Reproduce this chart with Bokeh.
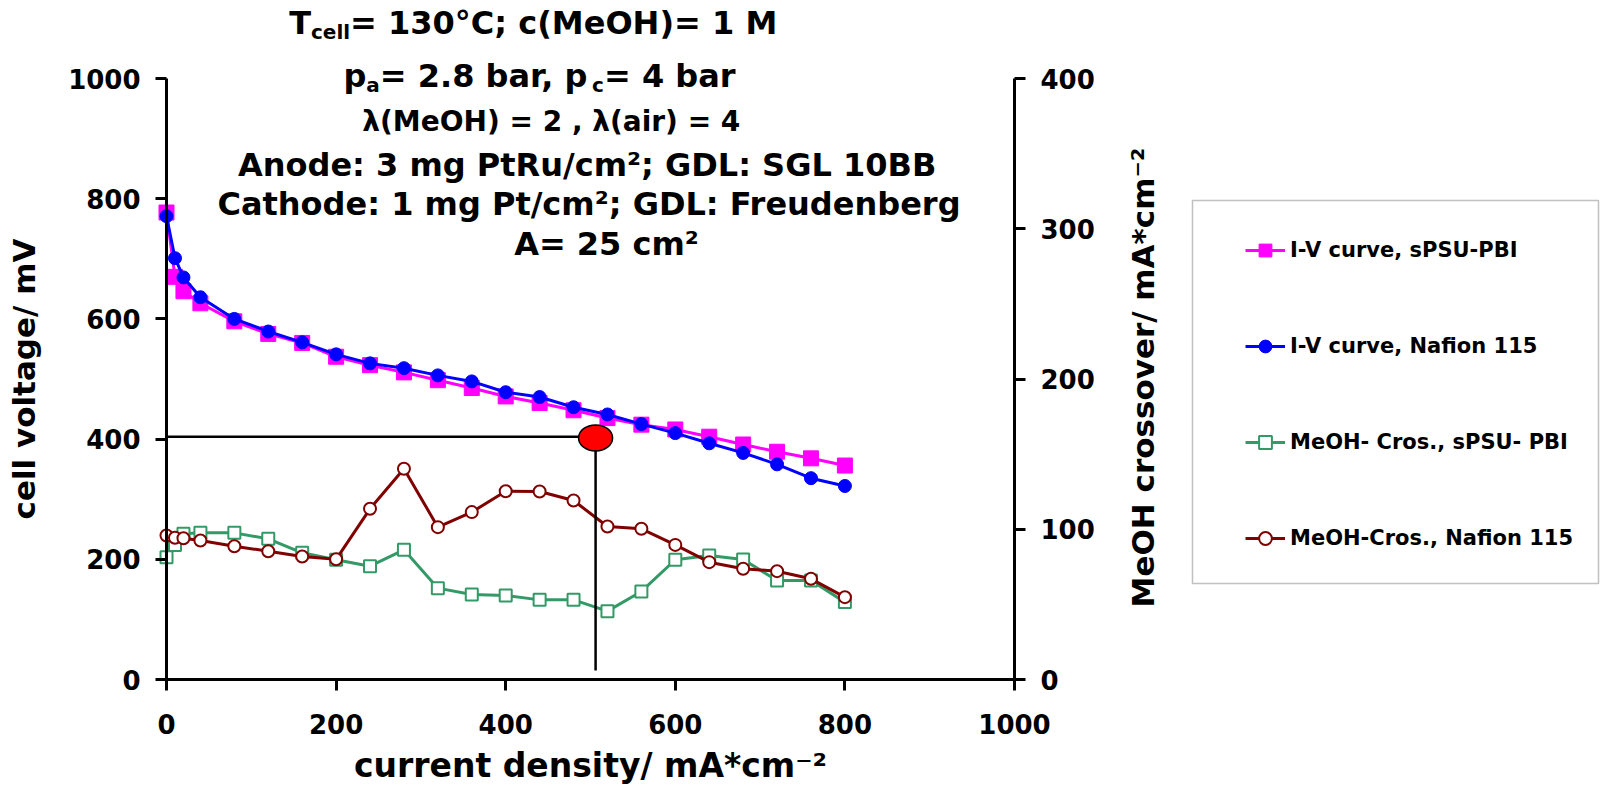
import math
from bokeh.plotting import figure
from bokeh.models import (Range1d, LinearAxis, FixedTicker, Legend, LegendItem,
                          Label, BoxAnnotation)
from bokeh.embed import file_html
from bokeh.resources import INLINE

# ---------------- data ----------------
current_density = [0, 10, 20, 40, 80, 120, 160, 200, 240, 280, 320, 360, 400,
                   440, 480, 520, 560, 600, 640, 680, 720, 760, 800]
iv_spsu_pbi = [777, 670, 646, 626, 596, 575, 560, 537, 523, 511, 498, 485, 471,
               460, 448, 435, 424, 416, 404, 391, 379, 368, 356]
iv_nafion = [771, 701, 669, 636, 600, 579, 561, 541, 526, 518, 506, 496, 478,
             470, 453, 441, 425, 410, 393, 377, 358, 335, 322]
cross_spsu_pbi = [81.4, 89.6, 97.0, 97.6, 97.6, 93.6, 84.3, 79.7, 75.4, 86.3, 60.8,
                  56.6, 55.9, 53.0, 53.0, 45.5, 58.6, 79.7, 82.5, 79.9, 65.9, 65.9, 51.5]
cross_nafion = [95.8, 94.3, 94.0, 92.5, 88.7, 85.4, 81.9, 80.0, 113.6, 140.3, 101.4,
                111.4, 125.3, 125.1, 119.1, 101.8, 100.3, 89.6, 78.1, 73.7, 72.1, 67.0, 54.8]

x_ticks = [0, 200, 400, 600, 800, 1000]
y_ticks = [0, 200, 400, 600, 800, 1000]
y2_ticks = [0, 100, 200, 300, 400]
x_limits = (0, 1000)
y_limits = (0, 1000)
y2_limits = (0, 400)

series_labels = ["I-V curve, sPSU-PBI", "I-V curve, Nafion 115",
                 "MeOH- Cros., sPSU- PBI", "MeOH-Cros., Nafion 115"]

# operating point marked in the chart (current density, cell voltage)
op_point_x = [506]
op_point_y = [402]
guide_level = [404]
guide_floor = [15]

# ---------------- layout ----------------
FONT = "DejaVu Sans"
CANVAS_W, CANVAS_H = 1600, 788
# pixel box of the axes area on the canvas
AX_L, AX_R, AX_T, AX_B = 166, 1014, 78, 679
sx = (AX_R - AX_L) / (x_limits[1] - x_limits[0])
sy = (AX_B - AX_T) / (y_limits[1] - y_limits[0])
k2 = (y2_limits[1] - y2_limits[0]) / (y_limits[1] - y_limits[0])


def xd(px):
    return x_limits[0] + (px - AX_L) / sx


def yd(py):
    return y_limits[0] + (AX_B - py) / sy


xr = Range1d(xd(0), xd(CANVAS_W))
yr = Range1d(yd(CANVAS_H), yd(0))

p = figure(width=CANVAS_W, height=CANVAS_H, min_border=0,
           min_border_left=0, min_border_right=0, min_border_top=0, min_border_bottom=0,
           x_range=xr, y_range=yr,
           output_backend="svg", toolbar_location=None,
           x_axis_label="current density/ mA*cm\u207b\u00b2",
           y_axis_label="cell voltage/ mV")
p.outline_line_color = None
p.grid.visible = False
p.background_fill_color = "white"
p.border_fill_color = "white"
p.extra_y_ranges = {"cross": Range1d(yr.start * k2, yr.end * k2)}


def style_axis(ax, ticks, size):
    ax.ticker = FixedTicker(ticks=ticks)
    ax.axis_line_width = 3
    ax.axis_line_color = "black"
    ax.major_tick_line_width = 3
    ax.major_tick_line_color = "black"
    ax.major_tick_out = 11
    ax.major_tick_in = 0
    ax.minor_tick_line_color = None
    ax.major_label_text_font = FONT
    ax.major_label_text_font_style = "bold"
    ax.major_label_text_font_size = f"{size}px"
    ax.major_label_text_color = "black"
    ax.major_label_standoff = 15
    ax.axis_label_text_font = FONT
    ax.axis_label_text_font_style = "bold"
    ax.axis_label_text_color = "black"


xax = p.xaxis[0]
style_axis(xax, x_ticks, 26)
xax.fixed_location = y_limits[0]
xax.bounds = x_limits
xax.major_label_standoff = 23
xax.axis_label_text_font_size = "33px"
xax.axis_label_standoff = 9

yax = p.yaxis[0]
style_axis(yax, y_ticks, 26)
yax.fixed_location = x_limits[0]
yax.bounds = y_limits
yax.axis_label_text_font_size = "31px"
yax.axis_label_standoff = 23

ax2 = LinearAxis(y_range_name="cross", fixed_location=x_limits[1], bounds=y2_limits)
style_axis(ax2, y2_ticks, 26)
p.add_layout(ax2, "right")

# ---------------- series ----------------
GREEN, DRED, MAG, BLUE = "#339966", "#800000", "#FF00FF", "#0000FF"

g_line = p.line(current_density, cross_spsu_pbi, y_range_name="cross", line_color=GREEN, line_width=3)
g_mark = p.scatter(current_density, cross_spsu_pbi, y_range_name="cross", marker="square",
                   size=12, fill_color="white", line_color=GREEN, line_width=2)
r_line = p.line(current_density, cross_nafion, y_range_name="cross", line_color=DRED, line_width=3)
r_mark = p.scatter(current_density, cross_nafion, y_range_name="cross", marker="circle",
                   size=12, fill_color="white", line_color=DRED, line_width=2)
m_line = p.line(current_density, iv_spsu_pbi, line_color=MAG, line_width=3)
m_mark = p.scatter(current_density, iv_spsu_pbi, marker="square", size=15,
                   fill_color=MAG, line_color=MAG)
b_line = p.line(current_density, iv_nafion, line_color=BLUE, line_width=3)
b_mark = p.scatter(current_density, iv_nafion, marker="circle", size=13,
                   fill_color=BLUE, line_color=BLUE)

# operating point guide lines and marker
p.line([x_limits[0], op_point_x[0]], [guide_level[0], guide_level[0]], line_color="black", line_width=2.5)
p.line([op_point_x[0], op_point_x[0]], [guide_level[0], guide_floor[0]], line_color="black", line_width=2.5)
p.ellipse(op_point_x, op_point_y, width=34, height=26, width_units="screen", height_units="screen",
          fill_color="#FF0000", line_color="black", line_width=1.5)

# ---------------- legend ----------------
legend = Legend(items=[LegendItem(label=series_labels[0], renderers=[m_line, m_mark]),
                       LegendItem(label=series_labels[1], renderers=[b_line, b_mark]),
                       LegendItem(label=series_labels[2], renderers=[g_line, g_mark]),
                       LegendItem(label=series_labels[3], renderers=[r_line, r_mark])],
                location=(1245, CANVAS_H - 554), orientation="vertical",
                glyph_width=40, glyph_height=32, label_height=32, spacing=64,
                padding=0, margin=0, label_standoff=5,
                border_line_color=None, background_fill_alpha=0,
                label_text_font=FONT, label_text_font_style="bold",
                label_text_color="black",
                label_text_font_size="21px", label_text_baseline="middle")
p.add_layout(legend)

p.add_layout(BoxAnnotation(left=xd(1192), right=xd(1598), top=yd(200), bottom=yd(583),
                           fill_alpha=0, line_color="#333333", line_width=1.5))

# ---------------- condition text ----------------
W = {' ': 713, '0': 1425, '1': 1425, '2': 1425, '3': 1425, '4': 1425, '5': 1425,
     '6': 1425, '7': 1425, '8': 1425, '9': 1425, '.': 780, ',': 780, ':': 819, ';': 819,
     '=': 1716, '(': 936, ')': 936, '/': 748, '*': 1024, '-': 852, '\u00b0': 1024,
     '\u00b2': 899, '\u03bb': 1331, 'A': 1585, 'B': 1561, 'C': 1503, 'D': 1700,
     'G': 1681, 'H': 1712, 'I': 762, 'L': 1305, 'M': 1995, 'O': 1741, 'P': 1532,
     'R': 1590, 'S': 1478, 'T': 1396, 'a': 1382, 'b': 1466, 'c': 1214, 'd': 1466,
     'e': 1389, 'g': 1466, 'h': 1458, 'i': 702, 'l': 702, 'm': 2134, 'n': 1458,
     'o': 1407, 'p': 1466, 'r': 1010, 's': 1219, 't': 979, 'u': 1458, 'v': 1331,
     'y': 1331}


def text_w(s, size):
    return sum(W.get(ch, 1300) for ch in s) / 2048.0 * size


TS, SS = 32, 20
condition_lines = [
    ([("T", TS, 0), ("cell", SS, 9), ("= 130\u00b0C; c(MeOH)= 1 M", TS, 0)], 532, 22),
    ([("p", TS, 0), ("a", SS, 9), ("= 2.8 bar, p", TS, 0), ("c", SS, 9), ("= 4 bar", TS, 0)], 539, 75),
    ([("\u03bb(MeOH) = 2 , \u03bb(air) = 4", 28, 0)], 551, 121),
    ([("Anode: 3 mg PtRu/cm\u00b2; GDL: SGL 10BB", TS, 0)], 587, 164),
    ([("Cathode: 1 mg Pt/cm\u00b2; GDL: Freudenberg", TS, 0)], 589, 203),
    ([("A= 25 cm\u00b2", TS, 0)], 606, 243),
]

for pieces, cx, mid in condition_lines:
    total = sum(text_w(t, s) for t, s, _ in pieces)
    x0 = cx - total / 2.0
    for t, s, dy in pieces:
        p.add_layout(Label(x=xd(x0), y=yd(mid + dy), text=t, text_font=FONT,
                           text_font_style="bold", text_font_size=f"{s}px",
                           text_color="black", text_align="left",
                           text_baseline="middle"))
        x0 += text_w(t, s)

# right axis title (reads bottom to top)
p.add_layout(Label(x=xd(1142), y=yd(377), text="MeOH crossover/ mA*cm\u207b\u00b2",
                   angle=math.pi / 2, text_font=FONT, text_font_style="bold",
                   text_font_size="31px", text_color="black", text_align="center",
                   text_baseline="middle"))

open("out.html", "w").write(file_html(p, INLINE))
